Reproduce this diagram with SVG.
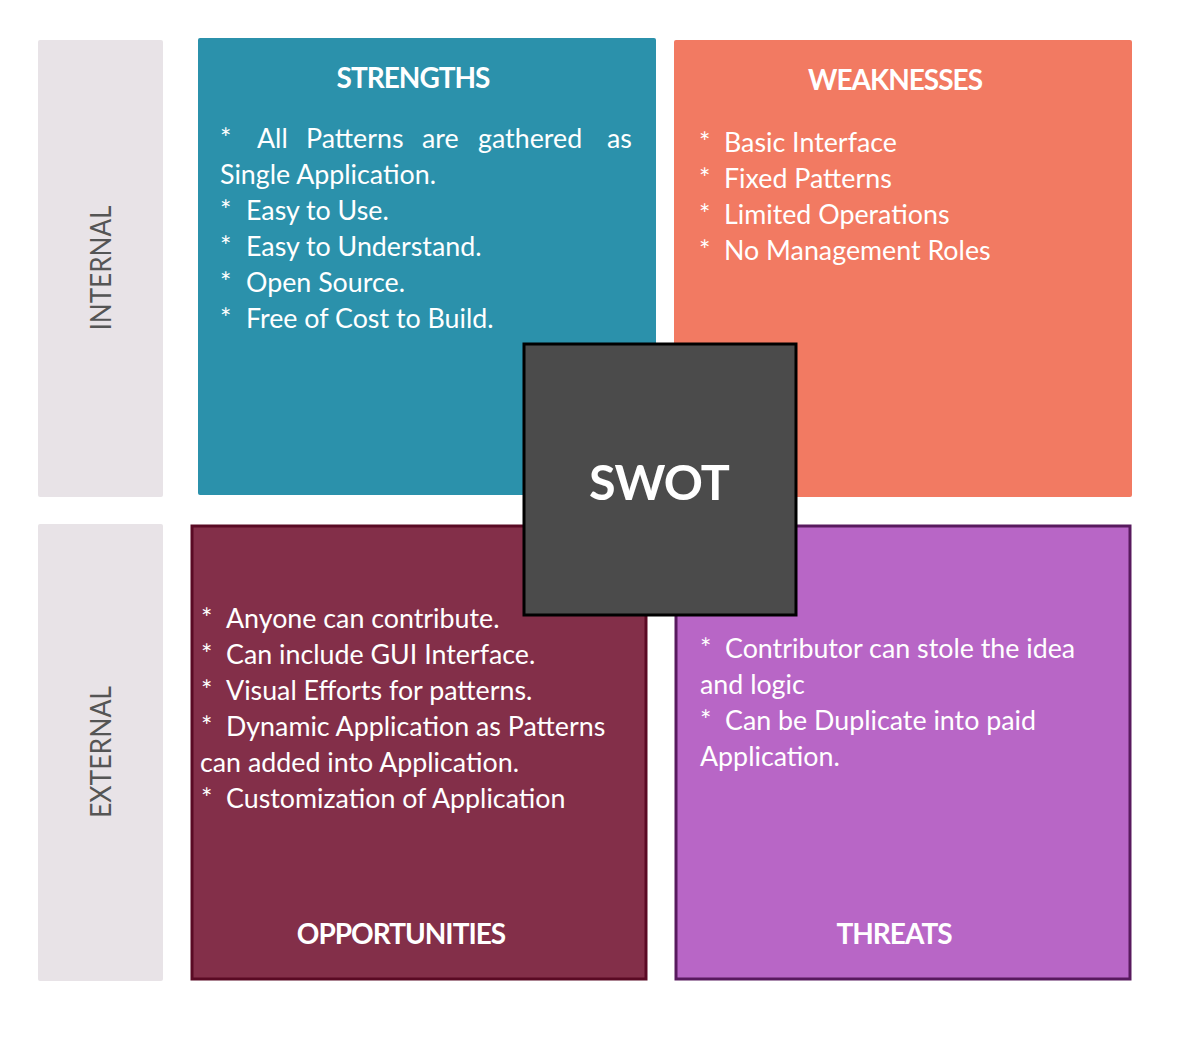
<svg xmlns="http://www.w3.org/2000/svg" width="1180" height="1058" viewBox="0 0 1180 1058">
  <style>
    .side { fill: #e8e3e7; }
    .side-label { font-family: Lato, "Liberation Sans", sans-serif; font-weight: 400; font-size: 28px; fill: #555555; }
    .title { font-family: Lato, "Liberation Sans", sans-serif; font-weight: 700; font-size: 28px; fill: #ffffff; text-anchor: middle; letter-spacing: -1px; }
    .body { font-family: Lato, "Liberation Sans", sans-serif; font-size: 26.8px; fill: #ffffff; }
    .center-label { font-family: Lato, "Liberation Sans", sans-serif; font-weight: 700; font-size: 48.5px; fill: #ffffff; text-anchor: middle; letter-spacing: -1px; }
  </style>
  <rect width="1180" height="1058" fill="#ffffff"/>

  <!-- axis labels -->
  <g id="internal">
    <rect class="side" x="38" y="40" width="125" height="457" rx="2"/>
    <text class="side-label" transform="translate(111,268) rotate(-90)" text-anchor="middle" textLength="125" lengthAdjust="spacingAndGlyphs">INTERNAL</text>
  </g>
  <g id="external">
    <rect class="side" x="38" y="524" width="125" height="457" rx="2"/>
    <text class="side-label" transform="translate(111,752) rotate(-90)" text-anchor="middle" textLength="132" lengthAdjust="spacingAndGlyphs">EXTERNAL</text>
  </g>

  <!-- quadrants -->
  <g id="strengths">
    <rect x="198" y="38" width="458" height="457" rx="2" fill="#2b91ab"/>
    <text class="title" x="413" y="88">STRENGTHS</text>
    <g class="body">
      <text x="220" y="148">*</text>
      <text x="257" y="148">All</text>
      <text x="306" y="148">Patterns</text>
      <text x="422" y="148">are</text>
      <text x="478" y="148">gathered</text>
      <text x="607" y="148">as</text>
      <text x="220" y="184">Single Application.</text>
      <text x="220" y="220">*</text><text x="246" y="220">Easy to Use.</text>
      <text x="220" y="256">*</text><text x="246" y="256">Easy to Understand.</text>
      <text x="220" y="292">*</text><text x="246" y="292">Open Source.</text>
      <text x="220" y="328">*</text><text x="246" y="328">Free of Cost to Build.</text>
    </g>
  </g>

  <g id="weaknesses">
    <rect x="674" y="40" width="458" height="457" rx="2" fill="#f27a62"/>
    <text class="title" x="895" y="90">WEAKNESSES</text>
    <g class="body">
      <text x="699" y="152">*</text><text x="724" y="152">Basic Interface</text>
      <text x="699" y="188">*</text><text x="724" y="188">Fixed Patterns</text>
      <text x="699" y="224">*</text><text x="724" y="224">Limited Operations</text>
      <text x="699" y="260">*</text><text x="724" y="260">No Management Roles</text>
    </g>
  </g>

  <g id="opportunities">
    <rect x="192" y="526" width="454" height="453" fill="#832f49" stroke="#5a0a24" stroke-width="3"/>
    <g class="body">
      <text x="201" y="628">*</text><text x="226" y="628">Anyone can contribute.</text>
      <text x="201" y="664">*</text><text x="226" y="664">Can include GUI Interface.</text>
      <text x="201" y="700">*</text><text x="226" y="700">Visual Efforts for patterns.</text>
      <text x="201" y="736">*</text><text x="226" y="736">Dynamic Application as Patterns</text>
      <text x="200" y="772">can added into Application.</text>
      <text x="201" y="808">*</text><text x="226" y="808">Customization of Application</text>
    </g>
    <text class="title" x="401" y="944">OPPORTUNITIES</text>
  </g>

  <g id="threats">
    <rect x="676" y="526" width="454" height="453" fill="#b866c6" stroke="#581a5e" stroke-width="3"/>
    <g class="body">
      <text x="700" y="658">*</text><text x="725" y="658">Contributor can stole the idea</text>
      <text x="700" y="694">and logic</text>
      <text x="700" y="730">*</text><text x="725" y="730">Can be Duplicate into paid</text>
      <text x="700" y="766">Application.</text>
    </g>
    <text class="title" x="894" y="944">THREATS</text>
  </g>

  <!-- centre block -->
  <g id="swot">
    <rect x="524" y="344" width="272" height="271" fill="#4b4b4b" stroke="#000000" stroke-width="3"/>
    <text class="center-label" x="659" y="500">SWOT</text>
  </g>
</svg>
